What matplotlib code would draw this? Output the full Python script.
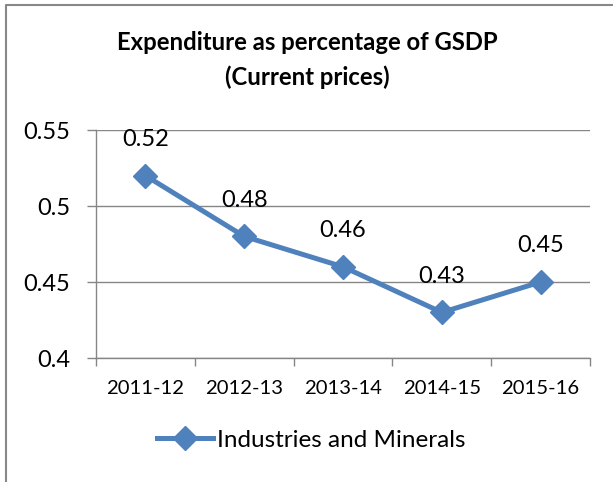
import matplotlib
matplotlib.use("Agg")
import matplotlib.pyplot as plt
from matplotlib.lines import Line2D

categories = ["2011-12", "2012-13", "2013-14", "2014-15", "2015-16"]
values = [0.52, 0.48, 0.46, 0.43, 0.45]
series_name = "Industries and Minerals"
yticks = [0.4, 0.45, 0.5, 0.55]
ytick_labels = ["0.4", "0.45", "0.5", "0.55"]

plt.rcParams['font.family'] = ['Lato', 'DejaVu Sans']

W, H = 613, 482
fig = plt.figure(figsize=(W/100, H/100), dpi=100)
ax = fig.add_axes([96/W, 1-358/H, (590-96)/W, (358-130)/H])

blue = "#4F81BD"
grid = "#868686"
x = list(range(len(categories)))
ax.plot(x, values, color=blue, lw=3.6, marker='D', ms=12.5, label=series_name, zorder=3)
for xi, v in zip(x, values):
    ax.annotate(f"{v:g}", (xi, v), xytext=(0, 26), textcoords='offset points',
                ha='center', va='center', fontsize=17, color='black')

ax.set_xlim(-0.5, len(categories)-0.5)
ax.set_ylim(0.4, 0.55)
ax.set_yticks(yticks)
ax.set_yticklabels(ytick_labels, fontsize=17)
ax.set_xticks(x)
ax.set_xticklabels(categories, fontsize=14.6)
ax.set_xticks([i-0.5 for i in range(len(categories)+1)], minor=True)
ax.tick_params(axis='x', which='major', length=0, pad=16)
ax.tick_params(axis='x', which='minor', length=6, color=grid, width=1, direction='out')
ax.tick_params(axis='y', length=6.5, color=grid, width=1, pad=12)
ax.grid(axis='y', color=grid, lw=1)
ax.set_axisbelow(True)
for s in ['top', 'right']:
    ax.spines[s].set_visible(False)
for s in ['left', 'bottom']:
    ax.spines[s].set_color(grid)
    ax.spines[s].set_linewidth(1)

fig.text(307/W, 1-42/H, "Expenditure as percentage of GSDP", ha='center', va='center',
         fontsize=17.2, fontweight='bold')
fig.text(307/W, 1-77/H, "(Current prices)", ha='center', va='center',
         fontsize=17.2, fontweight='bold')

leg = fig.legend(handles=[Line2D([], [], color=blue, lw=3.6, marker='D', ms=12.5)],
                 labels=[series_name], loc='center', bbox_to_anchor=(311/W, 1-440/H),
                 frameon=False, fontsize=17.5, handlelength=2.3, handletextpad=0.15)

fig.add_artist(Line2D([6/W, 6/W, 1], [0, 1-5/H, 1-5/H], transform=fig.transFigure,
                      color="#888888", lw=1.5))

fig.savefig("out.png", dpi=100)
